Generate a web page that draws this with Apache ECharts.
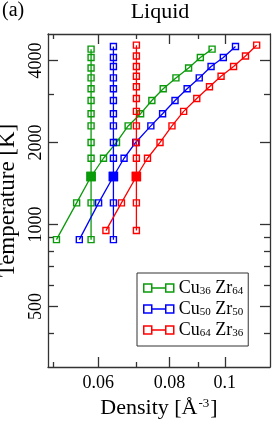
<!DOCTYPE html>
<html><head><meta charset="utf-8">
<script src="https://cdn.jsdelivr.net/npm/echarts@6/dist/echarts.min.js"></script>
<style>html,body{margin:0;padding:0;background:#fff}#c{width:273px;height:421px}</style>
</head><body><div id="c"></div>
<script>
const compositions = ['Cu36Zr64', 'Cu50Zr50', 'Cu64Zr36'];
const colors = ['#0a9a0a', '#0000ff', '#ff0000'];
const tempGreen = [880, 1200, 1500, 1750, 2000, 2300, 2550, 2850, 3150, 3450, 3750, 4100, 4400];
const tempBlue  = [880, 1200, 1500, 1750, 2000, 2300, 2550, 2850, 3150, 3450, 3800, 4100, 4500];
const tempRed   = [950, 1200, 1500, 1750, 2000, 2300, 2600, 2900, 3200, 3500, 3800, 4150, 4550];
const densGreen = [0.0507, 0.0550, 0.0583, 0.0613, 0.0646, 0.0677, 0.0712, 0.0745, 0.0780, 0.0821, 0.0864, 0.0906, 0.0950];
const densBlue  = [0.0556, 0.0601, 0.0638, 0.0666, 0.0698, 0.0742, 0.0778, 0.0818, 0.0859, 0.0902, 0.0946, 0.0994, 0.1044];
const densRed   = [0.0619, 0.0659, 0.0700, 0.0732, 0.0770, 0.0808, 0.0847, 0.0893, 0.0940, 0.0985, 0.1036, 0.1087, 0.1137];
const vertDensity = [0.0583, 0.0638, 0.0700];
const filledTemp = 1500;
const xMajor = [0.06, 0.08, 0.1];
const xMinor = [0.05, 0.07, 0.09];
const yMajor = [500, 1000, 2000, 4000];
const yMinor = [400, 600, 700, 800, 900, 3000];

const FONT = 'Liberation Serif';
const AX = '#333';
const temps = [tempGreen, tempBlue, tempRed];
const dens = [densGreen, densBlue, densRed];

const series = [];
compositions.forEach((name, i) => {
  const c = colors[i];
  const mk = (d, t) => t === filledTemp
    ? { value: [d, t], symbolSize: 8, itemStyle: { color: c, borderColor: c } }
    : [d, t];
  const common = {
    type: 'line', name: name, symbol: 'rect', symbolSize: 6, showSymbol: true,
    lineStyle: { color: c, width: 1.3 },
    itemStyle: { color: 'rgba(0,0,0,0)', borderColor: c, borderWidth: 1.4 },
    emphasis: { disabled: true }, animation: false, xAxisIndex: 0, yAxisIndex: 0, z: 3 + i
  };
  series.push(Object.assign({}, common, { data: temps[i].map(t => mk(vertDensity[i], t)) }));
  series.push(Object.assign({}, common, { data: temps[i].map((t, j) => mk(dens[i][j], t)) }));
});

function xAx(pos, ticks, len, showLine, showLabel, extra) {
  return Object.assign({
    type: 'log', logBase: 10, min: 0.049, max: 0.12, position: pos, gridIndex: 0,
    axisLine: { show: showLine, lineStyle: { color: AX, width: 1.3 } },
    axisTick: { show: true, inside: true, length: len, customValues: ticks, lineStyle: { color: AX, width: 1.3 } },
    axisLabel: { show: showLabel, customValues: ticks, margin: 7, color: '#000', fontFamily: FONT, fontSize: 18,
      formatter: v => String(+v.toPrecision(3)) },
    splitLine: { show: false }, minorTick: { show: false }
  }, extra || {});
}
function yAx(pos, ticks, len, showLine, showLabel, extra) {
  return Object.assign({
    type: 'log', logBase: 10, min: 300, max: 5000, position: pos, gridIndex: 0,
    axisLine: { show: showLine, lineStyle: { color: AX, width: 1.3 } },
    axisTick: { show: true, inside: true, length: len, customValues: ticks, lineStyle: { color: AX, width: 1.3 } },
    axisLabel: { show: showLabel, customValues: ticks, rotate: 90, margin: 3, color: '#000', fontFamily: FONT, fontSize: 18,
      formatter: v => String(Math.round(v)) },
    splitLine: { show: false }, minorTick: { show: false }
  }, extra || {});
}

const option = {
  backgroundColor: '#fff',
  animation: false,
  title: [
    { text: '(a)', left: 2, top: 1, padding: 0, textStyle: { fontFamily: FONT, fontSize: 20, fontWeight: 'normal', color: '#000' } },
    { text: 'Liquid', left: 160, textAlign: 'center', top: 1, padding: 0, textStyle: { fontFamily: FONT, fontSize: 22, fontWeight: 'normal', color: '#000' } }
  ],
  grid: { left: 48, right: 3, top: 34, bottom: 54, containLabel: false, outerBoundsMode: 'none' },
  xAxis: [
    xAx('bottom', xMajor, 10, true, true, {
      name: '{n|Density [Å}{s|-3}{n|]}', nameLocation: 'middle', nameGap: 28,
      nameTextStyle: { color: '#000', fontFamily: FONT, fontSize: 22,
        rich: { n: { fontFamily: FONT, fontSize: 22, color: '#000' }, s: { fontFamily: FONT, fontSize: 13, color: '#000', padding: [0, 1, 9, 1] } } }
    }),
    xAx('bottom', xMinor, 5, false, false),
    xAx('top', xMajor, 10, true, false),
    xAx('top', xMinor, 5, false, false)
  ],
  yAxis: [
    yAx('left', yMajor, 10, true, true, {
      name: 'Temperature [K]', nameLocation: 'middle', nameGap: 19, nameRotate: 90,
      nameTextStyle: { color: '#000', fontFamily: FONT, fontSize: 23 }
    }),
    yAx('left', yMinor, 6, false, false),
    yAx('right', yMajor, 10, true, false),
    yAx('right', yMinor, 6, false, false)
  ],
  legend: {
    orient: 'vertical', left: 137, top: 273, padding: [6, 5, 7, 6], itemGap: 3,
    itemWidth: 30, itemHeight: 8, selectedMode: false,
    borderColor: '#333', borderWidth: 1, backgroundColor: '#fff',
    data: compositions.map((n, i) => ({
      name: n, icon: 'path://M0,0H8V8H0ZM22,0H30V8H22ZM8,4H22',
      itemStyle: { color: 'rgba(0,0,0,0)', borderColor: colors[i], borderWidth: 1.5 }
    })),
    formatter: n => {
      const m = n.match(/Cu(\d+)Zr(\d+)/);
      return '{n|Cu}{s|' + m[1] + '}{n| Zr}{s|' + m[2] + '}';
    },
    textStyle: {
      fontFamily: FONT, color: '#000', fontSize: 18,
      rich: {
        n: { fontFamily: FONT, fontSize: 18, color: '#000', lineHeight: 18 },
        s: { fontFamily: FONT, fontSize: 11, color: '#000', lineHeight: 18, padding: [7, 0, 0, 0] }
      }
    }
  },
  series: series
};
const chart = echarts.init(document.getElementById('c'), null, { renderer: 'canvas' });
chart.setOption(option);
</script></body></html>
